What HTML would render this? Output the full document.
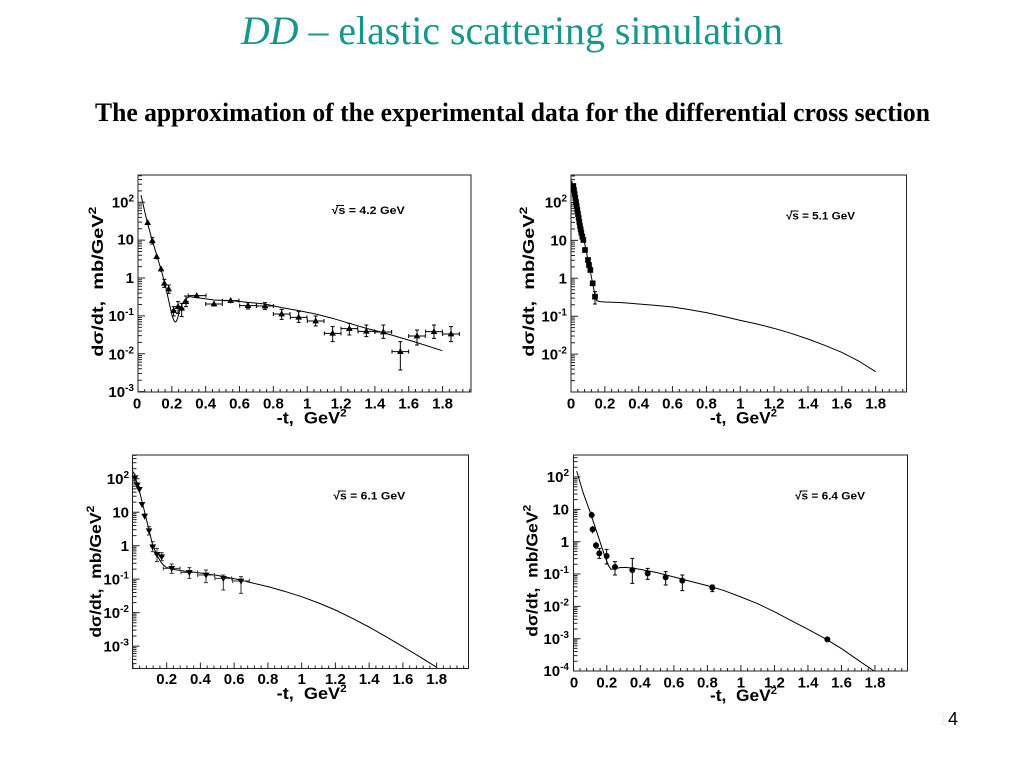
<!DOCTYPE html>
<html><head><meta charset="utf-8"><style>
html,body{margin:0;padding:0;background:#fff;}
svg{display:block;}
.sans{font-family:"Liberation Sans",Arial,sans-serif;font-weight:bold;}
</style></head><body>
<svg width="1024" height="767" viewBox="0 0 1024 767" xmlns="http://www.w3.org/2000/svg">
<defs>
<path id="logt" vector-effect="non-scaling-stroke" d="M0,-4h7M0,-3.699h4M0,-3.523h4M0,-3.398h4M0,-3.301h4M0,-3.222h4M0,-3.155h4M0,-3.097h4M0,-3.046h4M0,-3h7M0,-2.699h4M0,-2.523h4M0,-2.398h4M0,-2.301h4M0,-2.222h4M0,-2.155h4M0,-2.097h4M0,-2.046h4M0,-2h7M0,-1.699h4M0,-1.523h4M0,-1.398h4M0,-1.301h4M0,-1.222h4M0,-1.155h4M0,-1.097h4M0,-1.046h4M0,-1h7M0,-0.699h4M0,-0.523h4M0,-0.398h4M0,-0.301h4M0,-0.222h4M0,-0.155h4M0,-0.097h4M0,-0.046h4M0,0h7M0,0.301h4M0,0.477h4M0,0.602h4M0,0.699h4M0,0.778h4M0,0.845h4M0,0.903h4M0,0.954h4M0,1h7M0,1.301h4M0,1.477h4M0,1.602h4M0,1.699h4M0,1.778h4M0,1.845h4M0,1.903h4M0,1.954h4M0,2h7M0,2.301h4M0,2.477h4M0,2.602h4M0,2.699h4M0,2.778h4M0,2.845h4M0,2.903h4M0,2.954h4" stroke="#222" stroke-width="1" fill="none"/>
<path id="lint" vector-effect="non-scaling-stroke" d="M0,0v-6M0.04,0v-3M0.08,0v-3M0.12,0v-3M0.16,0v-3M0.2,0v-6M0.24,0v-3M0.28,0v-3M0.32,0v-3M0.36,0v-3M0.4,0v-6M0.44,0v-3M0.48,0v-3M0.52,0v-3M0.56,0v-3M0.6,0v-6M0.64,0v-3M0.68,0v-3M0.72,0v-3M0.76,0v-3M0.8,0v-6M0.84,0v-3M0.88,0v-3M0.92,0v-3M0.96,0v-3M1,0v-6M1.04,0v-3M1.08,0v-3M1.12,0v-3M1.16,0v-3M1.2,0v-6M1.24,0v-3M1.28,0v-3M1.32,0v-3M1.36,0v-3M1.4,0v-6M1.44,0v-3M1.48,0v-3M1.52,0v-3M1.56,0v-3M1.6,0v-6M1.64,0v-3M1.68,0v-3M1.72,0v-3M1.76,0v-3M1.8,0v-6M1.84,0v-3M1.88,0v-3M1.92,0v-3M1.96,0v-3M2,0v-6" stroke="#222" stroke-width="1" fill="none"/>
<path id="tu" d="M0,-11L10,7L-10,7Z" fill="#000"/>
<path id="td" d="M0,11L10,-7L-10,-7Z" fill="#000"/>
<rect id="sq" x="-8.5" y="-8.5" width="17" height="17" fill="#000"/>
<circle id="ci" r="9" fill="#000"/>
<clipPath id="c1"><rect x="138" y="175" width="333" height="217"/></clipPath>
<clipPath id="c2"><rect x="571" y="175" width="335.5" height="217"/></clipPath>
<clipPath id="c3"><rect x="132.5" y="455" width="336" height="213.5"/></clipPath>
<clipPath id="c4"><rect x="573.5" y="455" width="334" height="216"/></clipPath>
<clipPath id="z1"><rect x="174" y="45" width="998" height="651"/></clipPath>
<clipPath id="z2"><rect x="183" y="45" width="1007" height="651"/></clipPath>
<clipPath id="z3"><rect x="157" y="45" width="1008" height="640"/></clipPath>
<clipPath id="z4"><rect x="190" y="45" width="1002" height="648"/></clipPath>
</defs>

<!-- Titles -->
<text x="512" y="44" text-anchor="middle" font-family="'Liberation Serif','Times New Roman',serif" font-size="40" fill="#17968c" textLength="542" lengthAdjust="spacingAndGlyphs"><tspan font-style="italic">DD</tspan> – elastic scattering simulation</text>
<text x="512.5" y="121" text-anchor="middle" font-family="'Liberation Serif','Times New Roman',serif" font-weight="bold" font-size="26" fill="#000" textLength="835" lengthAdjust="spacingAndGlyphs">The approximation of the experimental data for the differential cross section</text>

<!-- ================= PANEL 1 ================= -->
<rect x="138" y="175" width="333" height="217" fill="none" stroke="#222" stroke-width="1"/>
<g clip-path="url(#c1)">
<use href="#logt" transform="translate(138,278) scale(1,-37.87)"/>
<use href="#lint" transform="translate(138,392) scale(169.2,1)"/>
</g>
<g transform="translate(80,160) scale(0.33333)">
<g clip-path="url(#z1)">
<polyline fill="none" stroke="#000" stroke-width="3" points="183,105 200,180 215,235 230,285 245,335 258,385 268,430 276,465 281,480 285,486 289,484 293,474 298,455 305,435 315,418 328,410 350,413 402,420 453,422 504,427 555,432 605,443 656,452 707,462 758,475 808,490 859,505 910,518 961,533 1011,548 1087,572"/>
<path fill="none" stroke="#000" stroke-width="3" d="M203 180V196M217 232V252M211 232h12M211 252h12M230 282V298M243 318V336M253 358V382M247 358h12M247 382h12M266 375V400M260 375h12M260 400h12M281 440V468M275 440h12M275 468h12M273 452H289M294 425V460M288 425h12M288 460h12M286 440H302M305 430V470M299 430h12M299 470h12M297 445H313M318 408V440M312 408h12M312 440h12M310 425H326M350 400V415M325 407H378M325 401v12M378 401v12M402 425V440M377 432H427M377 426v12M427 426v12M452 415V430M427 422H477M427 416v12M477 416v12M504 428V447M498 428h12M498 447h12M479 437H529M479 431v12M529 431v12M555 428V448M549 428h12M549 448h12M530 438H580M530 432v12M580 432v12M605 448V478M599 448h12M599 478h12M580 462H630M580 456v12M630 456v12M656 455V487M650 455h12M650 487h12M631 472H681M631 466v12M681 466v12M707 468V498M701 468h12M701 498h12M682 483H732M682 477v12M732 477v12M758 500V545M752 500h12M752 545h12M733 520H783M733 514v12M783 514v12M808 490V525M802 490h12M802 525h12M783 506H833M783 500v12M833 500v12M859 495V530M853 495h12M853 530h12M834 514H884M834 508v12M884 508v12M910 495V535M904 495h12M904 535h12M885 516H935M885 510v12M935 510v12M961 545V630M955 545h12M955 630h12M936 575H986M936 569v12M986 569v12M1011 510V555M1005 510h12M1005 555h12M986 528H1036M986 522v12M1036 522v12M1062 495V535M1056 495h12M1056 535h12M1037 515H1087M1037 509v12M1087 509v12M1113 500V545M1107 500h12M1107 545h12M1088 522H1138M1088 516v12M1138 516v12"/>
<use href="#tu" x="203" y="188"/><use href="#tu" x="217" y="242"/><use href="#tu" x="230" y="290"/><use href="#tu" x="243" y="327"/><use href="#tu" x="253" y="370"/><use href="#tu" x="266" y="387"/><use href="#tu" x="281" y="452"/><use href="#tu" x="294" y="440"/><use href="#tu" x="305" y="445"/><use href="#tu" x="318" y="425"/><use href="#tu" x="350" y="407"/><use href="#tu" x="402" y="432"/><use href="#tu" x="452" y="422"/><use href="#tu" x="504" y="437"/><use href="#tu" x="555" y="438"/><use href="#tu" x="605" y="462"/><use href="#tu" x="656" y="472"/><use href="#tu" x="707" y="483"/><use href="#tu" x="758" y="520"/><use href="#tu" x="808" y="506"/><use href="#tu" x="859" y="514"/><use href="#tu" x="910" y="516"/><use href="#tu" x="961" y="575"/><use href="#tu" x="1011" y="528"/><use href="#tu" x="1062" y="515"/><use href="#tu" x="1113" y="522"/>
</g>
</g>
<g class="sans" font-size="15" fill="#000" text-anchor="end">
<text x="134" y="207.5">10<tspan dy="-6" font-size="10">2</tspan></text>
<text x="134" y="244.5">10</text>
<text x="134" y="283.2">1</text>
<text x="134" y="321">10<tspan dy="-6" font-size="10">-1</tspan></text>
<text x="134" y="359.3">10<tspan dy="-6" font-size="10">-2</tspan></text>
<text x="134" y="397">10<tspan dy="-6" font-size="10">-3</tspan></text>
</g>
<g class="sans" font-size="15" fill="#000" text-anchor="middle">
<text x="137" y="408.5">0</text><text x="171.8" y="408.5">0.2</text><text x="205.7" y="408.5">0.4</text><text x="239.5" y="408.5">0.6</text><text x="273.4" y="408.5">0.8</text><text x="307.2" y="408.5">1</text><text x="341" y="408.5">1.2</text><text x="374.9" y="408.5">1.4</text><text x="408.7" y="408.5">1.6</text><text x="442.6" y="408.5">1.8</text>
</g>
<text class="sans" font-size="17" x="276.7" y="423.5" textLength="70" lengthAdjust="spacingAndGlyphs">-t,&#160;&#160;GeV<tspan dy="-7" font-size="11">2</tspan></text>
<text class="sans" font-size="16" text-anchor="middle" transform="translate(103,281.7) rotate(-90)" textLength="150" lengthAdjust="spacingAndGlyphs">dσ/dt,&#160;&#160;mb/GeV<tspan dy="-7" font-size="11">2</tspan></text>
<text class="sans" font-size="11" x="331.7" y="214" textLength="73" lengthAdjust="spacingAndGlyphs">√s = 4.2 GeV</text>
<line x1="336" y1="205.5" x2="344" y2="205.5" stroke="#000" stroke-width="1"/>

<!-- ================= PANEL 2 ================= -->
<rect x="571" y="175" width="335.5" height="217" fill="none" stroke="#222" stroke-width="1"/>
<g clip-path="url(#c2)">
<use href="#logt" transform="translate(571,278.3) scale(1,-37.9)"/>
<use href="#lint" transform="translate(571,392) scale(169.27,1)"/>
</g>
<g transform="translate(510,160) scale(0.33333)">
<g clip-path="url(#z2)">
<polyline fill="none" stroke="#000" stroke-width="3" points="185,62 195,105 205,160 215,210 225,255 235,305 245,355 255,405 260,422 270,425 285,426 335,428 386,432 437,436 488,441 538,449 589,458 640,469 691,481 741,492 792,505 843,520 894,537 944,556 995,577 1046,603 1097,635"/>
<path fill="none" stroke="#000" stroke-width="3" d="M255 395V432M249 395h12M249 432h12"/>
<use href="#sq" x="190" y="78"/><use href="#sq" x="192" y="90"/><use href="#sq" x="194" y="102"/><use href="#sq" x="196" y="114"/><use href="#sq" x="198" y="126"/><use href="#sq" x="200" y="138"/><use href="#sq" x="202" y="150"/><use href="#sq" x="204" y="162"/><use href="#sq" x="206" y="174"/><use href="#sq" x="208" y="186"/><use href="#sq" x="210" y="198"/><use href="#sq" x="212" y="208"/><use href="#sq" x="214" y="218"/><use href="#sq" x="217" y="230"/><use href="#sq" x="220" y="240"/><use href="#sq" x="225" y="270"/><use href="#sq" x="234" y="300"/><use href="#sq" x="237" y="315"/><use href="#sq" x="241" y="330"/><use href="#sq" x="248" y="370"/><use href="#sq" x="255" y="410"/>
</g>
</g>
<g class="sans" font-size="15" fill="#000" text-anchor="end">
<text x="567" y="207.7">10<tspan dy="-6" font-size="10">2</tspan></text>
<text x="567" y="245.6">10</text>
<text x="567" y="283.5">1</text>
<text x="567" y="321.4">10<tspan dy="-6" font-size="10">-1</tspan></text>
<text x="567" y="359.3">10<tspan dy="-6" font-size="10">-2</tspan></text>
</g>
<g class="sans" font-size="15" fill="#000" text-anchor="middle">
<text x="571" y="408.5">0</text><text x="604.9" y="408.5">0.2</text><text x="638.7" y="408.5">0.4</text><text x="672.6" y="408.5">0.6</text><text x="706.4" y="408.5">0.8</text><text x="740.3" y="408.5">1</text><text x="774.1" y="408.5">1.2</text><text x="808" y="408.5">1.4</text><text x="841.8" y="408.5">1.6</text><text x="875.7" y="408.5">1.8</text>
</g>
<text class="sans" font-size="17" x="710" y="423.5" textLength="67" lengthAdjust="spacingAndGlyphs">-t,&#160;&#160;GeV<tspan dy="-7" font-size="11">2</tspan></text>
<text class="sans" font-size="16" text-anchor="middle" transform="translate(534,281.7) rotate(-90)" textLength="150" lengthAdjust="spacingAndGlyphs">dσ/dt,&#160;&#160;mb/GeV<tspan dy="-7" font-size="11">2</tspan></text>
<text class="sans" font-size="11" x="786" y="219.5" textLength="69" lengthAdjust="spacingAndGlyphs">√s = 5.1 GeV</text>
<line x1="790.5" y1="211" x2="798.5" y2="211" stroke="#000" stroke-width="1"/>

<!-- ================= PANEL 3 ================= -->
<rect x="132.5" y="455" width="336" height="213.5" fill="none" stroke="#222" stroke-width="1"/>
<g clip-path="url(#c3)">
<use href="#logt" transform="translate(132.5,545.7) scale(1,-33.47)"/>
<use href="#lint" transform="translate(132.9,668.5) scale(168.75,1)"/>
</g>
<g transform="translate(80,440) scale(0.33333)">
<g clip-path="url(#z3)">
<polyline fill="none" stroke="#000" stroke-width="3" points="160,95 175,140 190,200 205,262 218,315 232,348 242,365 250,375 260,383 285,389 311,393 361,399 412,406 462,416 513,428 564,440 614,454 665,470 716,489 766,510 817,535 867,561 918,590 969,620 1019,650 1070,682"/>
<path fill="none" stroke="#333" stroke-width="3" d="M165 100V125M172 125V145M178 138V158M186 183V203M194 218V238M207 260V285M201 260h12M201 285h12M218 305V335M212 305h12M212 335h12M210 320H226M231 325V365M225 325h12M225 365h12M223 343H239M245 338V362M239 338h12M239 362h12M237 350H253M275 372V400M269 372h12M269 400h12M250 385H300M250 379v12M300 379v12M328 383V415M322 383h12M322 415h12M303 397H353M303 391v12M353 391v12M378 390V428M372 390h12M372 428h12M353 405H403M353 399v12M403 399v12M430 405V450M424 405h12M424 450h12M405 415H455M405 409v12M455 409v12M483 410V460M477 410h12M477 460h12M458 423H508M458 417v12M508 417v12"/>
<use href="#td" x="165" y="113"/><use href="#td" x="172" y="135"/><use href="#td" x="178" y="148"/><use href="#td" x="186" y="193"/><use href="#td" x="194" y="228"/><use href="#td" x="207" y="272"/><use href="#td" x="218" y="320"/><use href="#td" x="231" y="343"/><use href="#td" x="245" y="350"/><use href="#td" x="275" y="385"/><use href="#td" x="328" y="397"/><use href="#td" x="378" y="405"/><use href="#td" x="430" y="415"/><use href="#td" x="483" y="423"/>
</g>
</g>
<g class="sans" font-size="15" fill="#000" text-anchor="end">
<text x="129" y="484">10<tspan dy="-6" font-size="10">2</tspan></text>
<text x="129" y="517.4">10</text>
<text x="129" y="550.9">1</text>
<text x="129" y="584.4">10<tspan dy="-6" font-size="10">-1</tspan></text>
<text x="129" y="617.8">10<tspan dy="-6" font-size="10">-2</tspan></text>
<text x="129" y="651.3">10<tspan dy="-6" font-size="10">-3</tspan></text>
</g>
<g class="sans" font-size="15" fill="#000" text-anchor="middle">
<text x="166.7" y="684">0.2</text><text x="200.4" y="684">0.4</text><text x="234.2" y="684">0.6</text><text x="267.9" y="684">0.8</text><text x="301.7" y="684">1</text><text x="335.4" y="684">1.2</text><text x="369.2" y="684">1.4</text><text x="402.9" y="684">1.6</text><text x="436.7" y="684">1.8</text>
</g>
<text class="sans" font-size="17" x="276.7" y="699" textLength="70" lengthAdjust="spacingAndGlyphs">-t,&#160;&#160;GeV<tspan dy="-7" font-size="11">2</tspan></text>
<text class="sans" font-size="16" text-anchor="middle" transform="translate(101,571.7) rotate(-90)" textLength="132" lengthAdjust="spacingAndGlyphs">dσ/dt,&#160;&#160;mb/GeV<tspan dy="-7" font-size="11">2</tspan></text>
<text class="sans" font-size="11" x="333.3" y="499.5" textLength="72" lengthAdjust="spacingAndGlyphs">√s = 6.1 GeV</text>
<line x1="337.8" y1="491" x2="345.8" y2="491" stroke="#000" stroke-width="1"/>

<!-- ================= PANEL 4 ================= -->
<rect x="573.5" y="455" width="334" height="216" fill="none" stroke="#222" stroke-width="1"/>
<g clip-path="url(#c4)">
<use href="#logt" transform="translate(573.5,541.7) scale(1,-32.33)"/>
<use href="#lint" transform="translate(573.3,671) scale(167.6,1)"/>
</g>
<g transform="translate(510,440) scale(0.33333)">
<g clip-path="url(#z4)">
<polyline fill="none" stroke="#000" stroke-width="3" points="200,93 220,160 240,215 255,260 270,305 285,350 295,376 303,388 316,386 330,383 345,382 365,384 391,388 441,398 492,411 542,424 592,437 643,452 693,471 743,491 793,515 844,542 894,568 944,595 995,626 1045,661 1095,695"/>
<path fill="none" stroke="#000" stroke-width="3" d="M245 215V235M248 258V280M258 305V328M268 325V355M262 325h12M262 355h12M290 328V372M284 328h12M284 372h12M315 365V405M309 365h12M309 405h12M367 355V430M361 355h12M361 430h12M413 385V418M407 385h12M407 418h12M467 395V435M461 395h12M461 435h12M517 405V452M511 405h12M511 452h12M607 435V455M601 435h12M601 455h12M952 590V606"/>
<use href="#ci" x="245" y="225"/><use href="#ci" x="248" y="268"/><use href="#ci" x="258" y="316"/><use href="#ci" x="268" y="340"/><use href="#ci" x="290" y="348"/><use href="#ci" x="315" y="381"/><use href="#ci" x="367" y="390"/><use href="#ci" x="413" y="400"/><use href="#ci" x="467" y="412"/><use href="#ci" x="517" y="422"/><use href="#ci" x="607" y="443"/><use href="#ci" x="952" y="598"/>
</g>
</g>
<g class="sans" font-size="15" fill="#000" text-anchor="end">
<text x="569" y="482.2">10<tspan dy="-6" font-size="10">2</tspan></text>
<text x="569" y="514.6">10</text>
<text x="569" y="546.9">1</text>
<text x="569" y="579.2">10<tspan dy="-6" font-size="10">-1</tspan></text>
<text x="569" y="611.6">10<tspan dy="-6" font-size="10">-2</tspan></text>
<text x="569" y="643.9">10<tspan dy="-6" font-size="10">-3</tspan></text>
<text x="569" y="676.2">10<tspan dy="-6" font-size="10">-4</tspan></text>
</g>
<g class="sans" font-size="15" fill="#000" text-anchor="middle">
<text x="574" y="687.5">0</text><text x="606.8" y="687.5">0.2</text><text x="640.3" y="687.5">0.4</text><text x="673.9" y="687.5">0.6</text><text x="707.4" y="687.5">0.8</text><text x="740.9" y="687.5">1</text><text x="774.4" y="687.5">1.2</text><text x="808" y="687.5">1.4</text><text x="841.5" y="687.5">1.6</text><text x="875" y="687.5">1.8</text>
</g>
<text class="sans" font-size="17" x="710" y="701" textLength="67" lengthAdjust="spacingAndGlyphs">-t,&#160;&#160;GeV<tspan dy="-7" font-size="11">2</tspan></text>
<text class="sans" font-size="16" text-anchor="middle" transform="translate(537.5,570.8) rotate(-90)" textLength="132" lengthAdjust="spacingAndGlyphs">dσ/dt,&#160;&#160;mb/GeV<tspan dy="-7" font-size="11">2</tspan></text>
<text class="sans" font-size="11" x="795" y="499.5" textLength="70" lengthAdjust="spacingAndGlyphs">√s = 6.4 GeV</text>
<line x1="799.5" y1="491" x2="807.5" y2="491" stroke="#000" stroke-width="1"/>

<!-- slide number -->
<text x="938" y="725" font-family="'Liberation Sans',Arial,sans-serif" font-size="18"><tspan fill="#efefef">1</tspan><tspan fill="#000">4</tspan></text>
</svg>
</body></html>
